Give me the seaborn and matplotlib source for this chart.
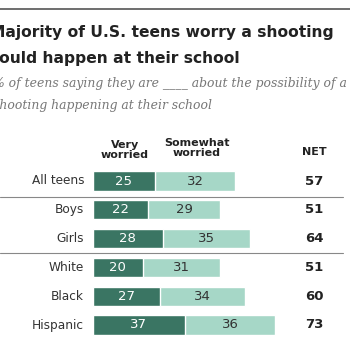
import pandas as pd
import matplotlib
matplotlib.use('Agg')
import matplotlib.pyplot as plt
import seaborn as sns

# Chart data
groups = ['All teens', 'Boys', 'Girls', 'White', 'Black', 'Hispanic']
very_worried = [25, 22, 28, 20, 27, 37]
somewhat_worried = [32, 29, 35, 31, 34, 36]
net = [57, 51, 64, 51, 60, 73]

df = pd.DataFrame({'group': groups, 'very': very_worried,
                   'somewhat': somewhat_worried, 'net': net})
df['total'] = df['very'] + df['somewhat']

dark = '#3a7563'
light = '#a6d7c7'

sns.set_style('white')
plt.rcParams['font.family'] = ['DejaVu Sans']

W = H = 350
fig = plt.figure(figsize=(3.5, 3.5), dpi=100)

def fx(px):
    return px / W

def fy(py):
    return 1 - py / H

# axes: x=0 at 92.7px, 2.5 px per unit; rows at y=181px, step 28.8px
ax = fig.add_axes([fx(92.7), fy(345), 250 / W, 185 / H])
sns.barplot(data=df, y='group', x='total', color=light, orient='h',
            width=0.66, ax=ax, saturation=1)
sns.barplot(data=df, y='group', x='very', color=dark, orient='h',
            width=0.66, ax=ax, saturation=1)
ax.set_xlim(0, 100)
ax.set_ylim(5 + 20 / 28.8, -21 / 28.8)
ax.axis('off')

for i, row in df.iterrows():
    ax.text(row['very'] / 2, i, str(row['very']), color='white',
            ha='center', va='center', fontsize=9.5)
    ax.text(row['very'] + row['somewhat'] / 2, i, str(row['somewhat']),
            color='#333333', ha='center', va='center', fontsize=9.5)
    ax.text(88.5, i, str(row['net']), color='#222222', ha='center',
            va='center', fontsize=9.5, fontweight='bold')
    fig.text(fx(84), fy(181 + i * 28.8), row['group'], color='#333333',
             ha='right', va='center', fontsize=8.7)

# column headers
fig.text(fx(125), fy(150), 'Very\nworried', ha='center', va='center',
         fontsize=8, fontweight='bold', color='#222222', linespacing=1.1)
fig.text(fx(197), fy(148), 'Somewhat\nworried', ha='center', va='center',
         fontsize=8, fontweight='bold', color='#222222', linespacing=1.1)
fig.text(fx(314), fy(152), 'NET', ha='center', va='center',
         fontsize=8, fontweight='bold', color='#222222')

# separator lines
for py in (197, 253):
    fig.add_artist(plt.Line2D([0, fx(343)], [fy(py), fy(py)],
                              color='#888888', lw=0.8))
fig.add_artist(plt.Line2D([0, 1], [fy(9), fy(9)], color='#555555', lw=1.2))

# title and subtitle (cropped on the left, as in the source image)
fig.text(fx(-10), fy(32), 'Majority of U.S. teens worry a shooting',
         ha='left', va='center', fontsize=11.2, fontweight='bold', color='#222222')
fig.text(fx(-10), fy(58), 'could happen at their school',
         ha='left', va='center', fontsize=11.2, fontweight='bold', color='#222222')
fig.text(fx(-7), fy(84), '% of teens saying they are ____ about the possibility of a',
         ha='left', va='center', fontsize=8.9, style='italic', color='#777777',
         family='DejaVu Serif')
fig.text(fx(-7), fy(105), 'shooting happening at their school',
         ha='left', va='center', fontsize=8.9, style='italic', color='#777777',
         family='DejaVu Serif')

fig.savefig('out.png', dpi=100)
